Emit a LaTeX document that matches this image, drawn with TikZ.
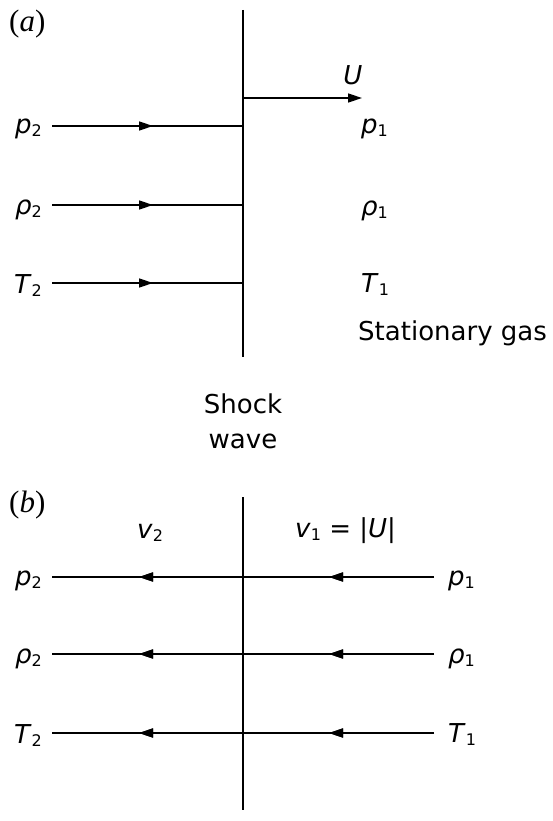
\documentclass[tikz,border=0pt]{standalone}
\usepackage{fontspec}
\setmainfont{Liberation Serif}
\newfontfamily\lblfamily{DejaVu Sans}
\usetikzlibrary{arrows.meta,decorations.markings}
\newcommand\symb[2]{\textit{#1}\raisebox{-3pt}{\fontsize{16}{16}\selectfont #2}}
\tikzset{
  lbl/.style={inner sep=0pt, font=\lblfamily\fontsize{26}{30}\selectfont},
  plab/.style={inner sep=0pt, font=\fontsize{31}{34}\selectfont},
  flow/.style={line width=1.5pt},
  shockline/.style={line width=1.6pt},
  tipend/.style={-{Triangle[length=14pt,width=9pt]}},
  midarrow/.style={postaction={decorate}, decoration={markings,
      mark=at position #1 with {\arrow{Triangle[length=14pt,width=9pt]}}}},
}
\begin{document}
\begin{tikzpicture}[x=1pt,y=-1pt]
\useasboundingbox (0,0) rectangle (553,821);
% ---------- (a) ----------
\node[plab, anchor=base west] (la) at (9,32) {(\textit{a})};
\coordinate (sTopA) at (243,10);
\coordinate (sBotA) at (243,357);
\draw[shockline] (sTopA) -- (sBotA);
% U arrow
\coordinate (uS) at (243,98);
\coordinate (uE) at (362,98);
\draw[flow,tipend] (uS) -- (uE);
\node[lbl, anchor=base] (U) at (353,85) {\textit{U}};
% rows
\node[lbl, anchor=base east] (p2a) at (42,134) {\symb{p}{2}};
\node[lbl, anchor=base east] (r2a) at (42,214) {\symb{ρ}{2}};
\node[lbl, anchor=base east] (T2a) at (42,293) {\symb{T}{2}};
\coordinate (p2aS) at (52,126); \coordinate (p2aE) at (243,126);
\coordinate (r2aS) at (52,205); \coordinate (r2aE) at (243,205);
\coordinate (T2aS) at (52,283); \coordinate (T2aE) at (243,283);
\draw[flow, midarrow=101pt] (p2aS) -- (p2aE);
\draw[flow, midarrow=101pt] (r2aS) -- (r2aE);
\draw[flow, midarrow=101pt] (T2aS) -- (T2aE);
\node[lbl, anchor=base west] (p1a) at (361,134) {\symb{p}{1}};
\node[lbl, anchor=base west] (r1a) at (361,215) {\symb{ρ}{1}};
\node[lbl, anchor=base west] (T1a) at (361,292) {\symb{T}{1}};
\node[lbl, anchor=base west] (stat) at (358,340) {Stationary gas};
% shock wave label
\node[lbl, anchor=base] (shock) at (243,413) {Shock};
\node[lbl, anchor=base] (wave) at (243,448) {wave};
% ---------- (b) ----------
\node[plab, anchor=base west] (lb) at (9,512) {(\textit{b})};
\coordinate (sTopB) at (243,497);
\coordinate (sBotB) at (243,810);
\draw[shockline] (sTopB) -- (sBotB);
\node[lbl, anchor=base west] (v2) at (137,538) {\symb{v}{2}};
\node[lbl, anchor=base west] (v1) at (295,537) {\symb{v}{1} = |\textit{U}|};
\node[lbl, anchor=base east] (p2b) at (42,585) {\symb{p}{2}};
\node[lbl, anchor=base east] (r2b) at (42,663) {\symb{ρ}{2}};
\node[lbl, anchor=base east] (T2b) at (42,743) {\symb{T}{2}};
\node[lbl, anchor=base west] (p1b) at (448,585) {\symb{p}{1}};
\node[lbl, anchor=base west] (r1b) at (448,663) {\symb{ρ}{1}};
\node[lbl, anchor=base west] (T1b) at (448,742) {\symb{T}{1}};
\coordinate (pbR) at (434,577); \coordinate (pbL) at (52,577);
\coordinate (rbR) at (434,654); \coordinate (rbL) at (52,654);
\coordinate (TbR) at (434,733); \coordinate (TbL) at (52,733);
\draw[flow, midarrow=105pt, midarrow=295pt] (pbR) -- (pbL);
\draw[flow, midarrow=105pt, midarrow=295pt] (rbR) -- (rbL);
\draw[flow, midarrow=105pt, midarrow=295pt] (TbR) -- (TbL);
\end{tikzpicture}
\end{document}
